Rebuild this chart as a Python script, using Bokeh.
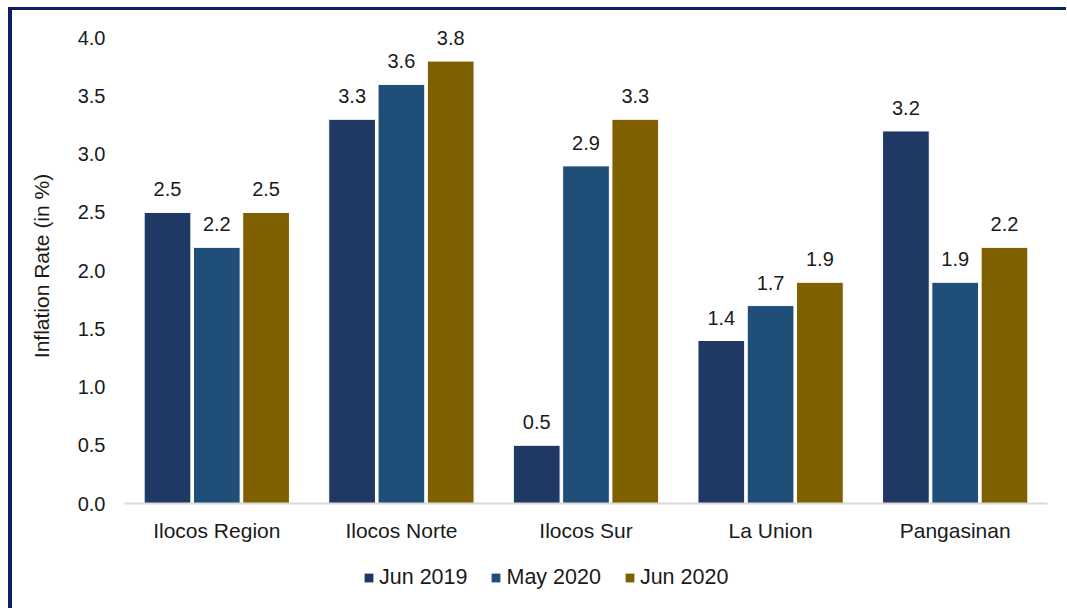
from bokeh.plotting import figure
from bokeh.models import ColumnDataSource, FixedTicker, PrintfTickFormatter, Legend, LegendItem, LabelSet, Range1d
from bokeh.layouts import column
from bokeh.transform import dodge
from bokeh.core.properties import value
from bokeh.embed import file_html
from bokeh.resources import INLINE

categories = ["Ilocos Region", "Ilocos Norte", "Ilocos Sur", "La Union", "Pangasinan"]
series_names = ["Jun 2019", "May 2020", "Jun 2020"]
jun_2019 = [2.5, 3.3, 0.5, 1.4, 3.2]
may_2020 = [2.2, 3.6, 2.9, 1.7, 1.9]
jun_2020 = [2.5, 3.8, 3.3, 1.9, 2.2]
y_ticks = [0.0, 0.5, 1.0, 1.5, 2.0, 2.5, 3.0, 3.5, 4.0]

colors = ["#1f3864", "#1f4e79", "#7f6000"]
offsets = [-0.267, 0.0, 0.267]
FONT = "Liberation Sans"
TXT = "#1a1a1a"
NAVY = "#0b2163"

src = ColumnDataSource(dict(
    cat=categories,
    s0=jun_2019, s1=may_2020, s2=jun_2020,
    l0=[f"{v:.1f}" for v in jun_2019],
    l1=[f"{v:.1f}" for v in may_2020],
    l2=[f"{v:.1f}" for v in jun_2020],
))

p = figure(x_range=categories, y_range=(0, 4.08), width=1054, height=545,
           output_backend="svg", toolbar_location=None,
           min_border_left=112, min_border_right=19, min_border_top=18, min_border_bottom=52)
p.outline_line_color = None
p.xgrid.grid_line_color = None
p.ygrid.grid_line_color = None

for i, (name, col, off) in enumerate(zip(series_names, colors, offsets)):
    p.vbar(x=dodge("cat", off, range=p.x_range), top=f"s{i}", width=0.253,
           source=src, fill_color=col, line_color="white", line_width=1)
    lbl = LabelSet(x=dodge("cat", off, range=p.x_range), y=f"s{i}", text=f"l{i}",
                   source=src, text_align="center", text_baseline="alphabetic",
                   y_offset=16, text_font=value(FONT), text_font_size=value("20px"),
                   text_color=TXT)
    p.add_layout(lbl)

# axes
p.yaxis.ticker = FixedTicker(ticks=y_ticks)
p.yaxis.formatter = PrintfTickFormatter(format="%.1f")
p.yaxis.axis_line_color = None
p.yaxis.major_tick_line_color = None
p.yaxis.minor_tick_line_color = None
p.yaxis.major_tick_out = 0
p.yaxis.major_tick_in = 0
p.yaxis.major_label_standoff = 19
p.yaxis.major_label_text_font = FONT
p.yaxis.major_label_text_font_size = "20px"
p.yaxis.major_label_text_color = TXT
p.yaxis.axis_label = "Inflation Rate (in %)"
p.yaxis.axis_label_text_font = FONT
p.yaxis.axis_label_text_font_size = "21px"
p.yaxis.axis_label_text_font_style = "normal"
p.yaxis.axis_label_text_color = TXT
p.yaxis.axis_label_standoff = 22

p.xaxis.axis_line_color = "#d9d9d9"
p.xaxis.axis_line_width = 2
p.xaxis.major_tick_line_color = None
p.xaxis.major_tick_out = 0
p.xaxis.major_tick_in = 0
p.xaxis.major_label_standoff = 15
p.xaxis.major_label_text_font = FONT
p.xaxis.major_label_text_font_size = "21px"
p.xaxis.major_label_text_color = TXT

# legend strip below the chart
pl = figure(width=1054, height=53, output_backend="svg", toolbar_location=None,
            x_range=Range1d(0, 1), y_range=Range1d(0, 1),
            x_axis_location=None, y_axis_location=None,
            min_border_left=0, min_border_right=0, min_border_top=0, min_border_bottom=0)
pl.outline_line_color = None
pl.grid.visible = False
items = []
for name, col in zip(series_names, colors):
    # swatch renderers sit below the visible range; only their legend glyphs show
    r = pl.vbar(x=[0.5], top=[-2], bottom=[-3], width=0.1, fill_color=col, line_color=None)
    items.append(LegendItem(label=name, renderers=[r]))
legend = Legend(items=items, orientation="horizontal", location=(239, 18),
                glyph_width=11, glyph_height=11, label_standoff=5, spacing=23,
                padding=0, margin=0, border_line_color=None, background_fill_alpha=0,
                label_text_font=FONT, label_text_font_size="21.5px", label_text_color=TXT)
pl.add_layout(legend)

layout = column(p, pl, spacing=0,
                styles={"margin-left": "8px", "margin-top": "7px",
                        "border-left": f"4px solid {NAVY}", "border-top": f"3px solid {NAVY}"})

open("out.html", "w").write(file_html(layout, INLINE))
